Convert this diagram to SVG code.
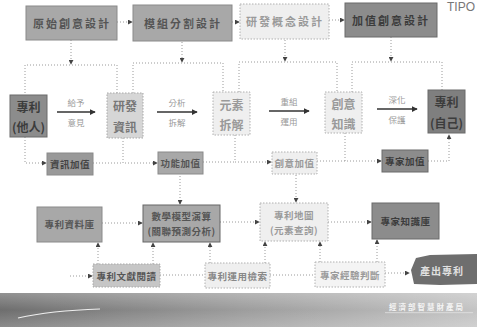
<svg xmlns="http://www.w3.org/2000/svg" width="477" height="331" viewBox="0 0 477 331">
<defs>
<style>
text{font-family:"Noto Sans CJK TC","Noto Sans CJK SC",sans-serif;font-weight:bold;text-anchor:middle;dominant-baseline:central}
.dk{fill:#8c8c8c;stroke:#6a6a6a;stroke-width:1}
.md{fill:#a8a8a8;stroke:#8a8a8a;stroke-width:1}
.lg{fill:#d6d6d6;stroke:#a8a8a8;stroke-width:1;stroke-dasharray:1.5 1.5}
.lt{fill:#efefef;stroke:#b0b0b0;stroke-width:1;stroke-dasharray:1.5 1.5}
.tdk{fill:#3c3c3c}
.tmd{fill:#555}
.tlt{fill:#9a9a9a}
.t11{font-size:11px;letter-spacing:2px}
.t13{font-size:12px}
.t10{font-size:9.5px;letter-spacing:0.5px}
.lab{font-size:8.5px;fill:#999;font-weight:normal}
.dot{fill:none;stroke:#9a9a9a;stroke-width:1;stroke-dasharray:1 2}
.dota{fill:none;stroke:#9a9a9a;stroke-width:1;stroke-dasharray:1 2;marker-end:url(#ah)}
.solid{fill:none;stroke:#333;stroke-width:1.6;marker-end:url(#sa)}
</style>
<marker id="ah" viewBox="0 0 6 6" refX="5" refY="3" markerWidth="5" markerHeight="5" markerUnits="userSpaceOnUse" orient="auto">
<path d="M0,0 L6,3 L0,6 z" fill="#444"/>
</marker>
<marker id="sa" viewBox="0 0 8 8" refX="7" refY="4" markerWidth="6" markerHeight="6" markerUnits="userSpaceOnUse" orient="auto">
<path d="M0,0 L8,4 L0,8 z" fill="#333"/>
</marker>
<linearGradient id="foot" x1="0" y1="0" x2="1" y2="0">
<stop offset="0" stop-color="#6e6e6e"/>
<stop offset="0.5" stop-color="#9c9c9c"/>
<stop offset="1" stop-color="#c4c4c4"/>
</linearGradient>
<linearGradient id="footv" x1="0" y1="0" x2="0" y2="1">
<stop offset="0" stop-color="#fff" stop-opacity="0.25"/>
<stop offset="0.5" stop-color="#fff" stop-opacity="0"/>
<stop offset="1" stop-color="#fff" stop-opacity="0.2"/>
</linearGradient>
</defs>
<rect width="477" height="331" fill="#fff"/>
<text x="475" y="7" font-size="12" fill="#777" style="font-family:'Liberation Sans',sans-serif;font-weight:normal;text-anchor:end">TIPO</text>

<g id="connectors">
<path class="dota" d="M117,22 H132"/>
<path class="dota" d="M232,22 H239"/>
<path class="dota" d="M329,20 H344"/>
<path class="dota" d="M71,40 V64"/>
<path class="dot" d="M25,93 V65 H117 V93"/>
<path class="dota" d="M182,42 V62"/>
<path class="dot" d="M133,93 V63 H223 V92"/>
<path class="dota" d="M285,40 V61"/>
<path class="dot" d="M239,92 V62 H337 V92"/>
<path class="dota" d="M391,37 V61"/>
<path class="dot" d="M352,92 V62 H442 V90"/>
<path class="solid" d="M57,112 H95"/>
<path class="solid" d="M157,112 H197"/>
<path class="solid" d="M269,111 H309"/>
<path class="solid" d="M377,109 H417"/>
<path class="dota" d="M25,137 V163 H46"/>
<path class="dota" d="M123,138 V163 H157"/>
<path class="dot" d="M93,163 H123"/>
<path class="dota" d="M235,135 V162 H271"/>
<path class="dot" d="M203,162 H235"/>
<path class="dota" d="M345,133 V161 H381"/>
<path class="dot" d="M317,161 H345"/>
<path class="dota" d="M428,161 H449 V135"/>
<path class="dota" d="M180,176 V204"/>
<path class="dota" d="M296,175 V202"/>
<path class="dota" d="M102,223 H142"/>
<path class="dota" d="M220,222 H259"/>
<path class="dota" d="M328,222 H371"/>
<path class="dota" d="M98,264 V243"/>
<path class="dota" d="M153,264 V243"/>
<path class="dota" d="M210,263 V243"/>
<path class="dota" d="M265,263 V242"/>
<path class="dota" d="M320,262 V242"/>
<path class="dota" d="M377,262 V240"/>
<path class="dota" d="M70,276 H92"/>
<path class="dot" d="M160,275 H205"/>
<path class="dot" d="M270,275 H315"/>
<path class="dota" d="M385,273 H409"/>
</g>

<g id="labels">
<text class="lab" x="76" y="102">給予</text>
<text class="lab" x="76" y="122">意見</text>
<text class="lab" x="177" y="102">分析</text>
<text class="lab" x="177" y="122">拆解</text>
<text class="lab" x="289" y="101">重組</text>
<text class="lab" x="289" y="121">運用</text>
<text class="lab" x="397" y="99">深化</text>
<text class="lab" x="397" y="119">保護</text>
</g>

<g id="n-yuanshi"><rect class="md" x="26" y="6" width="91" height="34"/><text class="tmd t11" x="72" y="23">原始創意設計</text></g>
<g id="n-mozu"><rect class="md" x="133" y="5" width="99" height="36"/><text class="tmd t11" x="183" y="23">模組分割設計</text></g>
<g id="n-yanfa"><rect class="lt" x="240" y="4" width="89" height="35"/><text class="tlt t11" x="285" y="21">研發概念設計</text></g>
<g id="n-jiazhi"><rect class="dk" x="345" y="3" width="92" height="34"/><text class="tdk t11" x="391" y="20">加值創意設計</text></g>

<g id="n-taren"><rect class="dk" x="10" y="95" width="37" height="42"/><text class="tdk t13" x="28.5" y="106">專利</text><text class="tdk t13" x="28.5" y="126">(他人)</text></g>
<g id="n-zixun"><rect class="lg" x="107" y="93" width="36" height="45"/><text class="t13" x="125" y="105" style="fill:#777">研發</text><text class="t13" x="125" y="126" style="fill:#777">資訊</text></g>
<g id="n-yuansu"><rect class="lt" x="213" y="92" width="37" height="43"/><text class="tlt t13" x="231.5" y="104">元素</text><text class="tlt t13" x="231.5" y="124">拆解</text></g>
<g id="n-zhishi"><rect class="lt" x="325" y="92" width="37" height="41"/><text class="tlt t13" x="343.5" y="103">創意</text><text class="tlt t13" x="343.5" y="123">知識</text></g>
<g id="n-ziji"><rect class="dk" x="428" y="90" width="37" height="43" style="fill:#7f7f7f"/><text class="tdk t13" x="446.5" y="101">專利</text><text class="tdk t13" x="446.5" y="122">(自己)</text></g>

<g id="n-zxjz"><rect class="md" x="47" y="153" width="46" height="22" style="fill:#999"/><text class="t10" x="70" y="164" style="fill:#444">資訊加值</text></g>
<g id="n-gnjz"><rect class="md" x="158" y="152" width="45" height="22"/><text class="tmd t10" x="180.5" y="163">功能加值</text></g>
<g id="n-cyjz"><rect class="lt" x="272" y="152" width="45" height="22"/><text class="tlt t10" x="294.5" y="163">創意加值</text></g>
<g id="n-zjjz"><rect class="dk" x="382" y="150" width="46" height="22"/><text class="tdk t10" x="405" y="161">專家加值</text></g>

<g id="n-zlzlk"><rect class="md" x="37" y="207" width="65" height="35"/><text class="tmd t10" x="69.5" y="224">專利資料庫</text></g>
<g id="n-sxmx"><rect class="md" x="143" y="205" width="77" height="37" style="stroke:#666"/><text class="tmd t10" x="181.5" y="216">數學模型演算</text><text class="tmd t10" x="181.5" y="231">(關聯預測分析)</text></g>
<g id="n-zldt"><rect class="lt" x="260" y="203" width="68" height="38"/><text class="tlt t10" x="294" y="215">專利地圖</text><text class="tlt t10" x="294" y="230">(元素查詢)</text></g>
<g id="n-zjzsk"><rect class="dk" x="372" y="203" width="67" height="36"/><text class="tdk t10" x="405.5" y="221">專家知識庫</text></g>

<g id="n-wxyd"><rect class="lg" x="93" y="264" width="67" height="23" style="fill:#c6c6c6"/><text class="tmd t10" x="126.5" y="275.5">專利文獻閱讀</text></g>
<g id="n-yyjs"><rect class="lt" x="205" y="263" width="65" height="25"/><text class="t10" x="237.5" y="275.5" style="fill:#888">專利運用檢索</text></g>
<g id="n-jypd"><rect class="lt" x="315" y="262" width="70" height="25" style="fill:#f4f4f4"/><text class="tlt t10" x="350" y="274.5">專家經驗判斷</text></g>
<g id="n-ccwl"><path d="M416,258 L430,255 L477,254 L477,284 L440,285 L414,284 L411,270 Z" fill="#6e6e6e"/><text x="442" y="270" font-size="10" fill="#e0e0e0" style="letter-spacing:1px">產出專利</text></g>

<g id="footer">
<rect x="0" y="293" width="477" height="34" fill="url(#foot)"/>
<rect x="0" y="293" width="477" height="34" fill="url(#footv)"/>
<path d="M18,318 C40,313 70,310 100,309" fill="none" stroke="#eee" stroke-width="1.2"/>
<text x="427" y="306" font-size="7.5" fill="#f4f4f4" style="letter-spacing:2px">經濟部智慧財產局</text>
<rect x="385" y="312" width="88" height="1.2" fill="#e6e6e6" opacity="0.6"/>
</g>
</svg>
